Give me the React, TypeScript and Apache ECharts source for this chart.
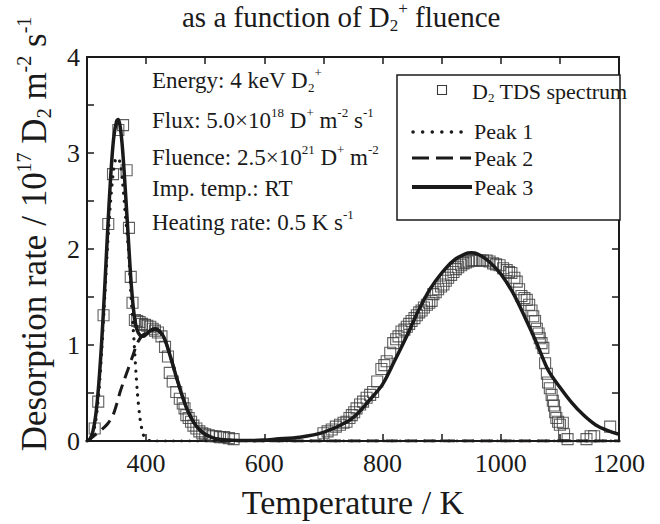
import React, { useEffect, useRef } from "react";
import * as echarts from "echarts";

// ---- Data ----
// Measured TDS spectrum (open squares)
const spectrumT = [
  313, 319, 328, 336, 344, 353, 361, 367, 371, 374, 377, 381, 385, 389, 393, 398, 402, 407, 411, 415, 420, 426,
  432, 437, 440, 445, 451, 457, 462, 465, 468, 472, 476, 480, 485, 490, 495, 500, 506, 512, 518, 525, 532, 540, 548,
  700, 707, 714, 721, 728, 734, 739, 744, 748, 752, 756, 762, 767, 773, 779, 784, 791, 798, 803, 807, 813, 818, 823,
  827, 832, 837, 841, 845, 849, 854, 858, 862, 866, 870, 875, 879, 883, 886, 890, 894, 899, 903, 907, 911, 916, 920,
  924, 928, 933, 937, 941, 945, 950, 954, 959, 965, 970, 976, 981, 987, 992, 998, 1004, 1010, 1014, 1018, 1023, 1027,
  1031, 1035, 1040, 1044, 1048, 1052, 1055, 1058, 1061, 1064, 1066, 1069, 1072, 1075, 1078, 1080, 1083, 1086, 1088,
  1090, 1092, 1094, 1097, 1100, 1105, 1107, 1113, 1145, 1152, 1158, 1185,
];
const spectrumY = [
  0.13, 0.41, 1.31, 2.26, 2.78, 3.24, 3.29, 2.82, 2.22, 1.71, 1.44, 1.26, 1.25, 1.24, 1.22, 1.21, 1.2, 1.19, 1.17, 1.15, 1.13, 1.09,
  0.98, 0.88, 0.71, 0.62, 0.51, 0.44, 0.39, 0.34, 0.27, 0.24, 0.2, 0.16, 0.13, 0.1, 0.08, 0.07, 0.06, 0.05, 0.05, 0.04, 0.04, 0.03, 0.02,
  0.08, 0.1, 0.12, 0.15, 0.17, 0.19, 0.2, 0.24, 0.27, 0.3, 0.34, 0.38, 0.41, 0.45, 0.48, 0.51, 0.62, 0.75, 0.79, 0.83, 0.92, 1.02, 1.06,
  1.09, 1.14, 1.16, 1.19, 1.22, 1.25, 1.28, 1.31, 1.34, 1.36, 1.39, 1.42, 1.44, 1.46, 1.53, 1.55, 1.58, 1.61, 1.63, 1.67, 1.7, 1.73, 1.76,
  1.79, 1.81, 1.83, 1.85, 1.86, 1.87, 1.88, 1.88, 1.88, 1.88, 1.88, 1.88, 1.87, 1.85, 1.84, 1.83, 1.8, 1.78, 1.76, 1.75, 1.7, 1.66,
  1.58, 1.51, 1.49, 1.47, 1.42, 1.36, 1.3, 1.25, 1.17, 1.12, 1.07, 1.02, 0.97, 0.81, 0.7, 0.61, 0.55, 0.48, 0.42,
  0.37, 0.3, 0.24, 0.2, 0.17, 0.19, 0.07, 0.02, 0.02, 0.05, 0.05, 0.15,
];

// Peak 1 (dotted)
const peak1T = [300, 305, 310, 315, 320, 325, 330, 335, 340, 345, 350, 355, 360, 365, 370, 375, 380, 385, 390, 395, 400, 410, 600, 800, 1000, 1200];
const peak1Y = [0, 0.02, 0.08, 0.22, 0.5, 0.95, 1.5, 2.05, 2.5, 2.82, 2.95, 2.92, 2.7, 2.35, 2.0, 1.46, 1.0, 0.52, 0.22, 0.07, 0.02, 0, 0, 0, 0, 0];

// Peak 2 (dashed)
const peak2T = [300, 305, 315, 325, 335, 344, 350, 356, 362, 369, 377, 386, 394, 402, 410, 415, 420, 430, 440, 450, 460, 470, 480, 490, 500, 520, 550, 600, 800, 1000, 1200];
const peak2Y = [0, 0.02, 0.07, 0.12, 0.18, 0.27, 0.38, 0.51, 0.62, 0.74, 0.88, 1.03, 1.1, 1.13, 1.15, 1.16, 1.15, 1.08, 0.9, 0.69, 0.49, 0.32, 0.2, 0.12, 0.07, 0.02, 0.005, 0, 0, 0, 0];

// Peak 3 (solid)
const peak3T = [
  300, 305, 310, 315, 320, 325, 330, 335, 340, 345, 350, 353, 356, 360, 365, 370, 375, 380, 385, 390, 395, 400, 405, 410,
  415, 420, 425, 430, 435, 440, 445, 450, 455, 460, 470, 480, 490, 500, 510, 520, 540, 560, 580, 600, 620, 660, 700, 740,
  760, 780, 800, 820, 840, 860, 880, 900, 920, 940, 950, 960, 980, 1000, 1020, 1040, 1060, 1080, 1100, 1120, 1140, 1160,
  1180, 1200,
];
const peak3Y = [
  0, 0.02, 0.1, 0.28, 0.6, 1.05, 1.6, 2.2, 2.75, 3.15, 3.33, 3.35, 3.28, 3.05, 2.6, 2.1, 1.62, 1.3, 1.15, 1.1, 1.09, 1.11, 1.14, 1.16,
  1.17, 1.16, 1.13, 1.08, 1.0, 0.9, 0.8, 0.69, 0.59, 0.49, 0.32, 0.2, 0.12, 0.07, 0.04, 0.02, 0.01, 0.005, 0.005, 0.01, 0.02, 0.04, 0.09, 0.2,
  0.3, 0.44, 0.59, 0.83, 1.08, 1.35, 1.58, 1.75, 1.88, 1.95, 1.96, 1.95, 1.87, 1.74, 1.55, 1.3, 1.03, 0.74, 0.56, 0.4, 0.27, 0.17,
  0.11, 0.07,
];

const xMin = 300;
const xMax = 1200;
const yMin = 0;
const yMax = 4;

const SERIF = "Liberation Serif";
const INK = "#1a1a1a";

const zip = (xs: number[], ys: number[]) => xs.map((x, i) => [x, ys[i]]);

export default function App() {
  const ref = useRef<HTMLDivElement>(null);

  useEffect(() => {
    if (!ref.current) return;
    const chart = echarts.init(ref.current, undefined, { renderer: "svg" });

    const tickCommon = {
      axisLine: { show: true, onZero: false, lineStyle: { color: INK, width: 2 } },
      axisTick: { show: true, inside: true, length: 7, lineStyle: { color: INK, width: 1.5 } },
      splitLine: { show: false },
    };

    const annRich = {
      n: { fontSize: 23, fontFamily: SERIF, fill: INK, lineHeight: 28 },
      sup: { fontSize: 13, fontFamily: SERIF, fill: INK, verticalAlign: "top", lineHeight: 13 },
      sub: { fontSize: 13, fontFamily: SERIF, fill: INK, verticalAlign: "bottom", lineHeight: 13 },
    };
    const ann = (y: number, text: string) => ({
      type: "text",
      x: 152,
      y,
      z: 50,
      style: { text, rich: annRich, fontFamily: SERIF, fontSize: 23, fill: INK, verticalAlign: "middle", align: "left" },
    });

    const legRich = {
      n: { fontSize: 22, fontFamily: SERIF, fill: INK, lineHeight: 26 },
      sub: { fontSize: 13, fontFamily: SERIF, fill: INK, verticalAlign: "bottom", lineHeight: 13 },
    };
    const legText = (y: number, text: string, x = 474) => ({
      type: "text",
      x,
      y,
      z: 61,
      style: { text, rich: legRich, fontFamily: SERIF, fontSize: 22, fill: INK, verticalAlign: "middle", align: "left" },
    });

    chart.setOption({
      animation: false,
      backgroundColor: "#ffffff",
      title: {
        text: "{n|as a function of D}{sub|2}{sup|+}{n| fluence}",
        left: 182,
        top: 0,
        padding: 0,
        textStyle: {
          fontFamily: SERIF,
          fontWeight: "normal",
          color: INK,
          fontSize: 29,
          rich: {
            n: { fontFamily: SERIF, fontSize: 29, color: INK, lineHeight: 34 },
            sup: { fontFamily: SERIF, fontSize: 17, color: INK, verticalAlign: "top", lineHeight: 17 },
            sub: { fontFamily: SERIF, fontSize: 17, color: INK, verticalAlign: "bottom", lineHeight: 17 },
          },
        },
      },
      grid: { left: 87, right: 41, top: 57, bottom: 74, containLabel: false },
      xAxis: [
        {
          type: "value",
          min: xMin,
          max: xMax,
          interval: 100,
          position: "bottom",
          ...tickCommon,
          axisLabel: {
            show: true,
            margin: 9,
            fontFamily: SERIF,
            fontSize: 26,
            color: INK,
            formatter: (v: number) => (v % 200 === 0 ? String(v) : ""),
          },
          name: "Temperature / K",
          nameLocation: "middle",
          nameGap: 44,
          nameTextStyle: { fontFamily: SERIF, fontSize: 34, color: INK },
        },
        {
          type: "value",
          min: xMin,
          max: xMax,
          interval: 100,
          position: "top",
          ...tickCommon,
          axisLabel: { show: false },
        },
      ],
      yAxis: [
        {
          type: "value",
          min: yMin,
          max: yMax,
          interval: 0.5,
          position: "left",
          ...tickCommon,
          axisLabel: {
            show: true,
            margin: 7,
            fontFamily: SERIF,
            fontSize: 26,
            color: INK,
            formatter: (v: number) => (Number.isInteger(v) ? String(v) : ""),
          },
        },
        {
          type: "value",
          min: yMin,
          max: yMax,
          interval: 0.5,
          position: "right",
          ...tickCommon,
          axisLabel: { show: false },
        },
      ],
      series: [
        {
          name: "D2 TDS spectrum",
          type: "scatter",
          data: zip(spectrumT, spectrumY),
          symbol: "rect",
          symbolSize: 11,
          itemStyle: { color: "rgba(255,255,255,0)", borderColor: "#3a3a3a", borderWidth: 1.1 },
          z: 3,
        },
        {
          name: "Peak 1",
          type: "line",
          data: zip(peak1T, peak1Y),
          showSymbol: false,
          symbol: "none",
          smooth: 0.3,
          lineStyle: { color: INK, width: 3.2, type: [0.1, 8], cap: "round" },
          z: 4,
        },
        {
          name: "Peak 2",
          type: "line",
          data: zip(peak2T, peak2Y),
          showSymbol: false,
          symbol: "none",
          smooth: 0.3,
          lineStyle: { color: INK, width: 3, type: [12, 7] },
          z: 4,
        },
        {
          name: "Peak 3",
          type: "line",
          data: zip(peak3T, peak3Y),
          showSymbol: false,
          symbol: "none",
          smooth: 0.3,
          lineStyle: { color: INK, width: 3.5 },
          z: 5,
        },
      ],
      graphic: [
        {
          type: "text",
          x: 34,
          y: 234,
          rotation: Math.PI / 2,
          z: 50,
          style: {
            text: "{n|Desorption rate / 10}{sup|17}{n| D}{sub|2}{n| m}{sup|-2}{n| s}{sup|-1}",
            align: "center",
            verticalAlign: "middle",
            fontFamily: SERIF,
            fontSize: 35,
            fill: INK,
            rich: {
              n: { fontFamily: SERIF, fontSize: 35, fill: INK, lineHeight: 40 },
              sup: { fontFamily: SERIF, fontSize: 20, fill: INK, verticalAlign: "top", lineHeight: 20 },
              sub: { fontFamily: SERIF, fontSize: 20, fill: INK, verticalAlign: "bottom", lineHeight: 20 },
            },
          },
        },
        ann(80, "{n|Energy: 4 keV D}{sub|2}{sup|+}"),
        ann(120, "{n|Flux: 5.0×10}{sup|18}{n| D}{sup|+}{n| m}{sup|-2}{n| s}{sup|-1}"),
        ann(157, "{n|Fluence: 2.5×10}{sup|21}{n| D}{sup|+}{n| m}{sup|-2}"),
        ann(188, "{n|Imp. temp.: RT}"),
        ann(222, "{n|Heating rate: 0.5 K s}{sup|-1}"),
        {
          type: "rect",
          z: 60,
          shape: { x: 397, y: 75, width: 223, height: 145 },
          style: { fill: "#ffffff", stroke: INK, lineWidth: 1.5 },
        },
        {
          type: "rect",
          z: 61,
          shape: { x: 437.5, y: 85.5, width: 9, height: 9 },
          style: { fill: "none", stroke: "#3a3a3a", lineWidth: 1.1 },
        },
        legText(91, "{n|D}{sub|2}{n| TDS spectrum}", 472),
        {
          type: "line",
          z: 61,
          shape: { x1: 413, y1: 132, x2: 462, y2: 132 },
          style: { stroke: INK, lineWidth: 3.5, lineDash: [0.1, 9.5], lineCap: "round" },
        },
        legText(131, "{n|Peak 1}"),
        {
          type: "line",
          z: 61,
          shape: { x1: 412, y1: 158, x2: 471, y2: 158 },
          style: { stroke: INK, lineWidth: 3, lineDash: [17, 7] },
        },
        legText(158, "{n|Peak 2}"),
        {
          type: "line",
          z: 61,
          shape: { x1: 412, y1: 187, x2: 472, y2: 187 },
          style: { stroke: INK, lineWidth: 4 },
        },
        legText(187, "{n|Peak 3}"),
      ],
    });

    return () => chart.dispose();
  }, []);

  return (
    <div
      ref={ref}
      style={{ position: "fixed", left: 0, top: 0, width: 660, height: 524, background: "#fff" }}
    />
  );
}
